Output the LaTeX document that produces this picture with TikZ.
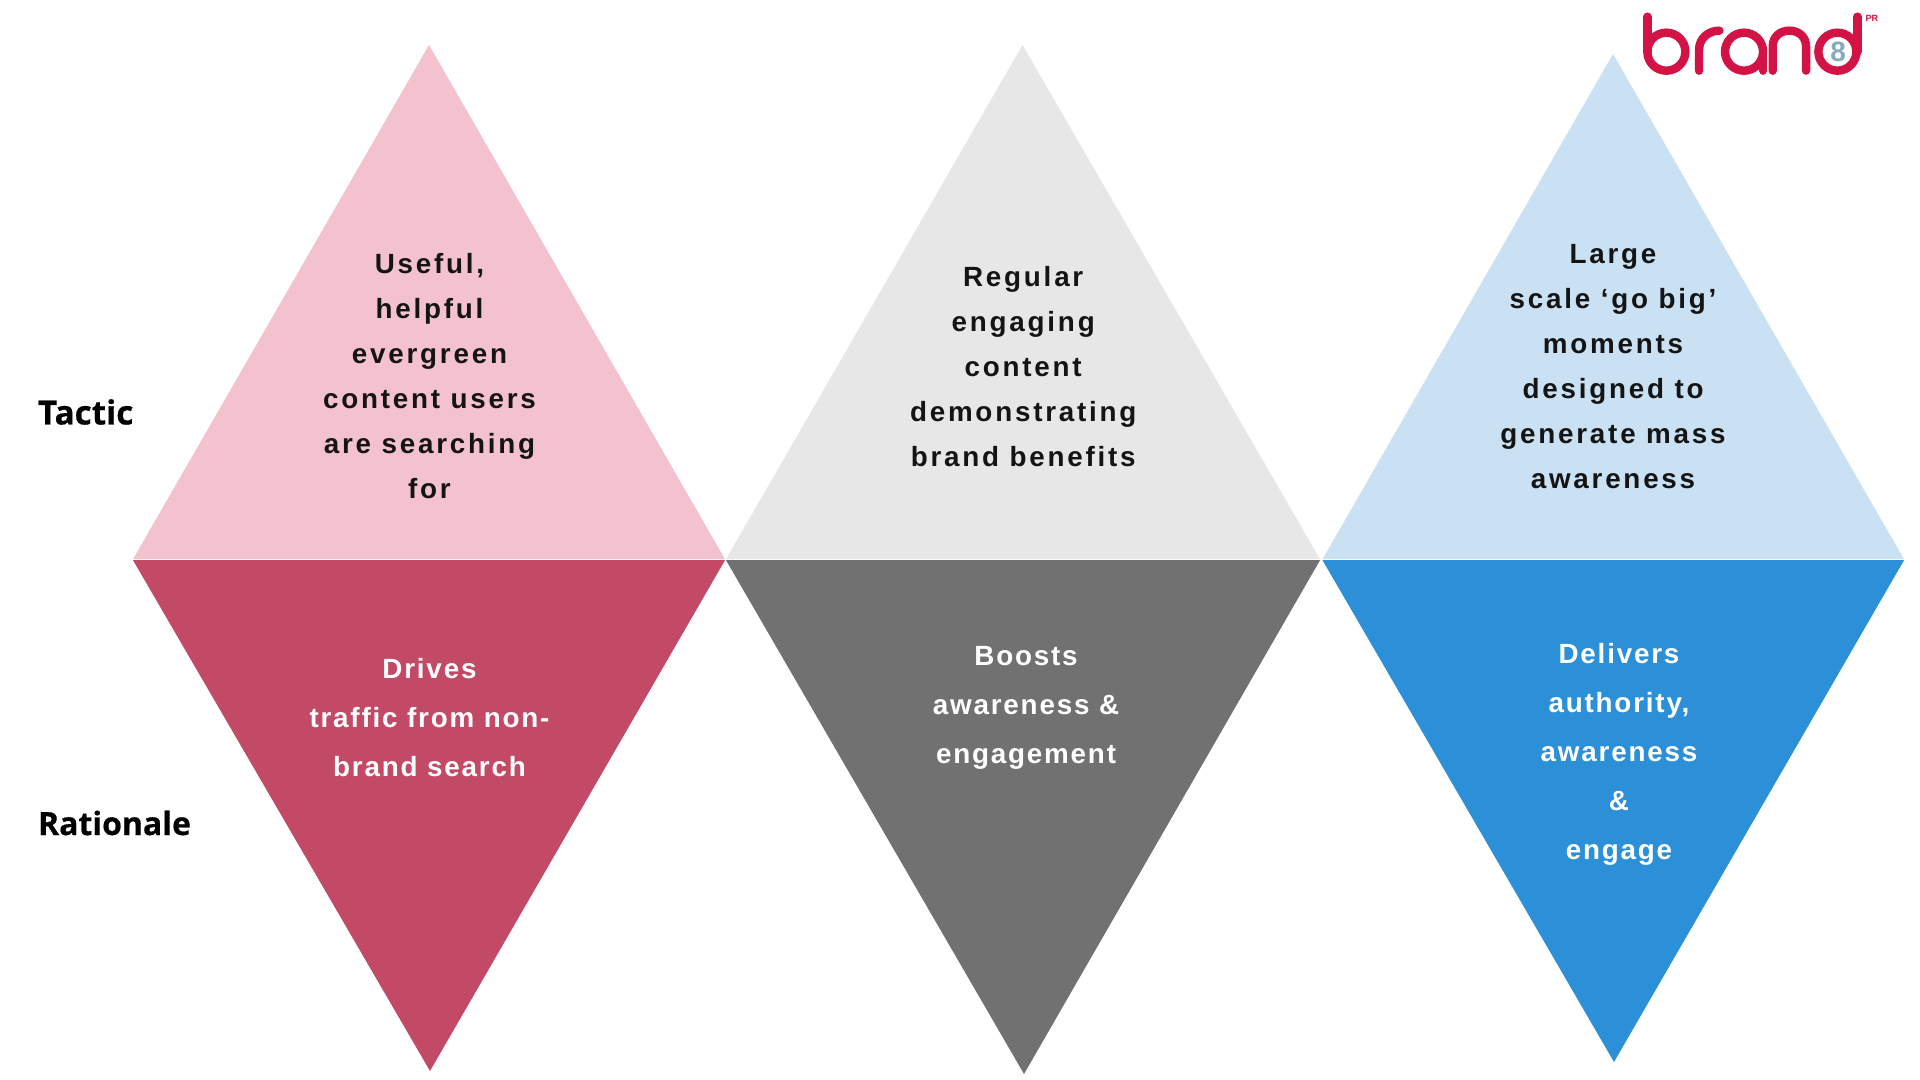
\documentclass[tikz,border=0pt]{standalone}
\usepackage{fontspec}
\newfontfamily\lab[LetterSpace=10,BoldFont={Liberation Sans Bold}]{Liberation Sans}
\newfontfamily\labw[LetterSpace=6.5,BoldFont={Liberation Sans Bold}]{Liberation Sans}
\newfontfamily\rowf[BoldFont={Open Sans Bold},BoldFeatures={FakeBold=0.5}]{Open Sans}
\definecolor{pinkL}{HTML}{F4C2CF}
\definecolor{pinkD}{HTML}{C34A66}
\definecolor{grayL}{HTML}{E7E7E7}
\definecolor{grayD}{HTML}{717171}
\definecolor{blueL}{HTML}{C9E1F3}
\definecolor{blueD}{HTML}{2B90D7}
\definecolor{logoR}{HTML}{D31245}
\definecolor{logoB}{HTML}{86ABC0}
\definecolor{inkD}{HTML}{141414}
\tikzset{
  tacticText/.style={align=center,text=inkD,font=\lab\bfseries\fontsize{13.9pt}{22.5pt}\selectfont},
  rationaleText/.style={align=center,text=white,font=\labw\bfseries\fontsize{13.9pt}{24.5pt}\selectfont},
  rowText/.style={anchor=west,text=black,font=\rowf\bfseries\fontsize{16pt}{19pt}\selectfont},
  logoLine/.style={draw=logoR,line width=4.2pt,line cap=round,line join=round},
}
\begin{document}
\begin{tikzpicture}[x=0.5pt,y=-0.5pt]
\useasboundingbox (0,0) rectangle (1920,1080);
\fill[white] (0,0) rectangle (1920,1080);
% triangles
\fill[pinkL] (429,45) -- (725,559.2) -- (133,559.2) -- cycle;
\fill[pinkD] (133,560.2) -- (725,560.2) -- (430,1071) -- cycle;
\fill[grayL] (1022.5,45) -- (1320,559.2) -- (726,559.2) -- cycle;
\fill[grayD] (726,560.2) -- (1320,560.2) -- (1024,1074) -- cycle;
\fill[blueL] (1613,54) -- (1904,559.2) -- (1322.5,559.2) -- cycle;
\fill[blueD] (1322.5,560.2) -- (1904,560.2) -- (1614,1062) -- cycle;
% texts
\node[tacticText] (t1) at (429.5,376) {Useful,\\helpful\\evergreen\\content users\\are searching\\for};
\node[tacticText] (t2) at (1023.2,367) {Regular\\engaging\\content\\demonstrating\\brand benefits};
\node[tacticText] (t3) at (1613,367) {Large\\scale ‘go big’\\moments\\designed to\\generate mass\\awareness};
\node[rationaleText] (r1) at (429.5,717.5) {Drives\\traffic from non-\\brand search};
\node[rationaleText] (r2) at (1026,707.5) {Boosts\\awareness \&\\engagement};
\node[rationaleText] (r3) at (1619,754.5) {Delivers\\authority,\\awareness\\\&\\engage};
\node[rowText] (tactic) at (31,412) {\fontsize{16.6pt}{19pt}\selectfont Tactic};
\node[rowText] (rationale) at (31,823) {Rationale};
% logo
\begin{scope}[shift={(1620,0)},x=0.1667pt,y=-0.1667pt]
\draw[logoLine] (82,50) -- (82,155);
\draw[logoLine] (139,155) circle [radius=57];
\draw[logoLine] (237,212) -- (237,150) .. controls (237,115) and (265,92) .. (298,92);
\draw[logoLine] (372,155) circle [radius=57];
\draw[logoLine] (429,155) -- (429,212);
\draw[logoLine] (458,212) -- (458,140) .. controls (458,110) and (480,92) .. (508,92) .. controls (536,92) and (558,110) .. (558,140) -- (558,212);
\draw[logoLine] (652,155) circle [radius=57];
\draw[logoLine] (712,50) -- (712,155);
\fill[white] (655,155) circle [radius=26];
\node[text=logoB,font=\fontspec{Liberation Sans Bold}\fontsize{14pt}{14pt}\selectfont] (eight) at (654,155) {8};
\node[text=logoR,font=\fontspec{Liberation Sans Bold}\fontsize{4.5pt}{5pt}\selectfont] (pr) at (755,55) {PR};
\end{scope}
\end{tikzpicture}
\end{document}
